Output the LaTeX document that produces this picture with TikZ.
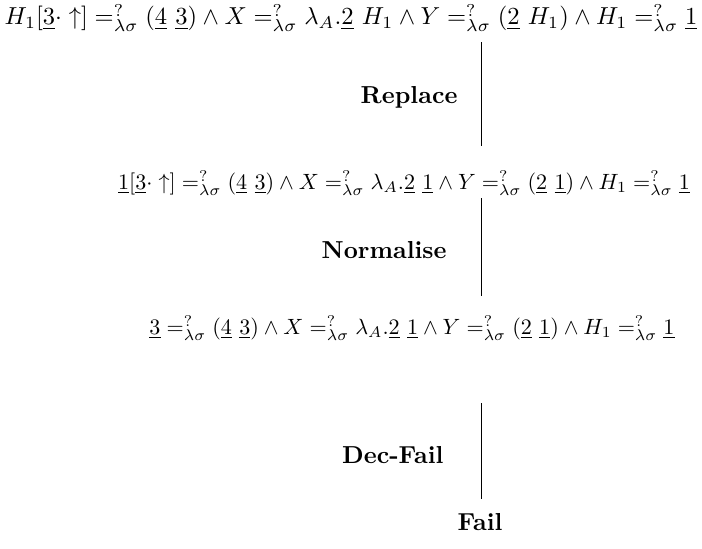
\documentclass[tikz,border=0pt]{standalone}
\usepackage{amsmath}
\newcommand{\equ}{\mathrel{=^{?}_{\lambda\sigma}}}
\newcommand{\ul}[1]{\underline{#1}}
\begin{document}
\begin{tikzpicture}[x=0.4075pt, y=-0.4075pt,
  term/.style={inner sep=0pt, anchor=center},
  smallterm/.style={term, scale=0.9},
  rulename/.style={inner sep=0pt, anchor=east, font=\bfseries},
  stepline/.style={draw, line width=0.4pt}]
\useasboundingbox (0,0) rectangle (702,548);
% terms of the derivation
\node[term] (r1) at (351,18) {$H_1[\ul{3}\cdot\uparrow] \equ (\ul{4}\ \ul{3}) \wedge X \equ \lambda_A.\ul{2}\ H_1 \wedge Y \equ (\ul{2}\ H_1) \wedge H_1 \equ \ul{1}$};
\node[smallterm] (r2) at (404,183) {$\ul{1}[\ul{3}\cdot\uparrow] \equ (\ul{4}\ \ul{3}) \wedge X \equ \lambda_A.\ul{2}\ \ul{1} \wedge Y \equ (\ul{2}\ \ul{1}) \wedge H_1 \equ \ul{1}$};
\node[smallterm] (r3) at (412,328) {$\ul{3} \equ (\ul{4}\ \ul{3}) \wedge X \equ \lambda_A.\ul{2}\ \ul{1} \wedge Y \equ (\ul{2}\ \ul{1}) \wedge H_1 \equ \ul{1}$};
\node[term, font=\bfseries] (fail) at (480,522) {Fail};
% steps between terms
\coordinate (s1a) at (481,42);  \coordinate (s1b) at (481,146);
\coordinate (s2a) at (481,198); \coordinate (s2b) at (481,296);
\coordinate (s3a) at (481,403); \coordinate (s3b) at (481,499);
\draw[stepline] (s1a) -- (s1b);
\draw[stepline] (s2a) -- (s2b);
\draw[stepline] (s3a) -- (s3b);
\node[rulename] (n1) at (458,97) {Replace};
\node[rulename] (n2) at (447,250) {Normalise};
\node[rulename] (n3) at (444,455) {Dec-Fail};
\end{tikzpicture}
\end{document}
